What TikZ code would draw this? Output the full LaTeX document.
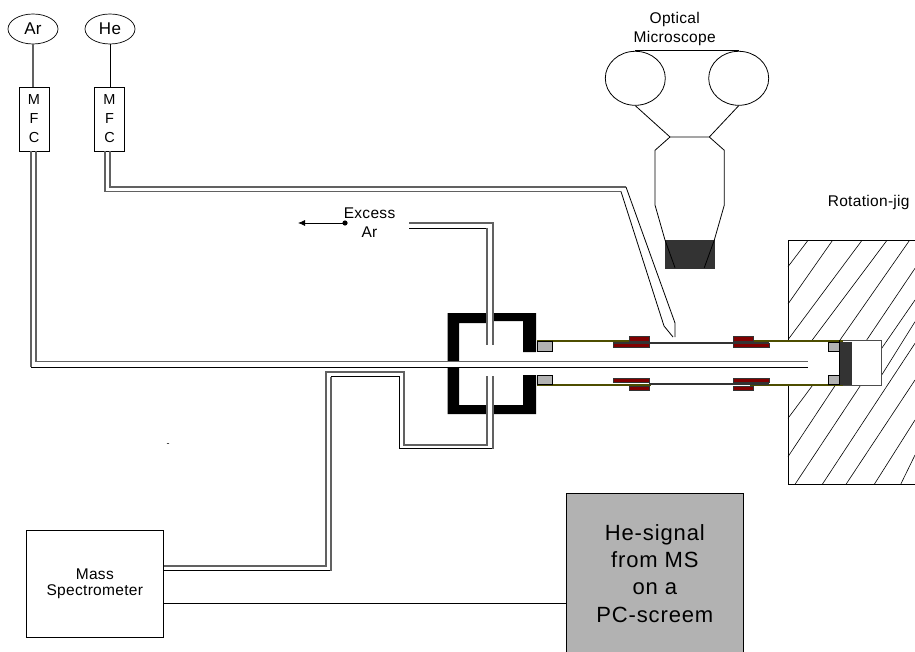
\documentclass[tikz,border=0pt]{standalone}
\usepackage{fontspec}
\setmainfont{Liberation Sans}
\newfontfamily\wide[LetterSpace=2]{Liberation Sans}
\newfontfamily\wider[LetterSpace=4]{Liberation Sans}
\usetikzlibrary{shapes.geometric,arrows.meta}
\definecolor{flangegray}{HTML}{B2B2B2}
\definecolor{darkplug}{HTML}{333333}
\definecolor{sealred}{HTML}{800000}
\definecolor{tubeolive}{HTML}{4D4D00}
\tikzset{
  wire/.style={line width=.8pt},
  pipe/.style={line width=1.1pt,black!62},
  bottle/.style={draw,ellipse,line width=.7pt,minimum width=50pt,minimum height=30pt,inner sep=0pt,font=\wide\fontsize{17}{20}\selectfont},
  mfcbox/.style={draw,line width=.7pt,minimum width=30pt,minimum height=64pt,inner sep=0pt,align=center,font=\fontsize{14.5}{19}\selectfont},
  label/.style={align=center,inner sep=0pt,font=\wide\fontsize{15.5}{19}\selectfont},
  seal/.style={fill=sealred,draw=black!80,line width=.6pt},
  spacer/.style={fill=flangegray,draw=black,line width=.8pt},
}
\begin{document}
\begin{tikzpicture}[x=1pt,y=-1pt]
\useasboundingbox (0,0) rectangle (915,652);
% gas bottles and flow controllers
\node[bottle] (ar) at (33,29) {Ar};
\node[bottle] (he) at (110,29) {He};
\node[mfcbox] (mfcar) at (34,119) {M\\F\\C};
\node[mfcbox] (mfche) at (109.5,119) {M\\F\\C};
\draw[pipe] (ar) -- (ar |- mfcar.north);
\draw[wire] (he) -- (he |- mfche.north);
% rotation jig
\draw[wire] (915,240.7) -- (788,240.7) -- (788,340);
\draw[wire] (788,385) -- (788,484.3) -- (915,484.3);
\foreach \xa/\ya/\xb/\yb in {807.7/240.7/788/266.7,832.3/240.7/788/304,861.7/240.7/788.3/339.3,886.7/240.7/812.3/340,909.3/240.7/840/340,915/268.3/866.7/340,915/300/881.7/348.3,915/321.7/881.7/375,812.3/385.7/788/418.3,835/385.7/788/456.7,860.3/385.7/795/484.3,915/343.3/822.3/484.3,915/380/846/484.3,915/420/874.3/484.3,915/455/900.7/484.3}
  \draw[line width=.6pt] (\xa,\ya) -- (\xb,\yb);
\draw[line width=.9pt,black!70] (788,340) -- (881,340) -- (881,385) -- (788,385);
% sample tube
\draw[tubeolive,line width=2pt] (537,340.5) -- (630,340.5);
\draw[tubeolive,line width=2pt] (750,340.5) -- (843,340.5);
\draw[tubeolive,line width=2pt] (537,385) -- (651,385);
\draw[tubeolive,line width=2pt] (750,385) -- (843,385);
\draw[darkplug,line width=2pt] (613,342.5) -- (769,342.5);
\draw[darkplug,line width=2pt] (649,383.5) -- (769,383.5);
\foreach \yt in {343,378} {
  \draw[seal] (613,\yt) rectangle (649,\yt+4.3);
  \draw[seal] (733,\yt) rectangle (769,\yt+4.3);
}
\draw[seal] (629,336) rectangle (649,341);
\draw[seal] (629,386) rectangle (649,390);
\draw[seal] (733,336) rectangle (753,341);
\draw[seal] (733,386) rectangle (753,390);
\draw[spacer] (537,341.7) rectangle (552,351);
\draw[spacer] (537,375) rectangle (552,384);
\draw[spacer] (828,342) rectangle (839,351);
\draw[spacer] (828,375) rectangle (839,384);
\fill[darkplug] (839,342) rectangle (852,385);
\draw[wire] (839,340) -- (839,385);
% flange
\fill (447.5,361) -- (447.5,313) -- (536,313) -- (536,352) -- (523,352) -- (523,321) -- (490,321) -- (490,323) -- (459,323) -- (459,361) -- cycle;
\fill (447.5,367.5) -- (447.5,414) -- (536,414) -- (536,375) -- (523,375) -- (523,405) -- (459,405) -- (459,367.5) -- cycle;
\fill[white] (488,310) rectangle (492.5,345);
\fill[white] (488,376) rectangle (492.5,416);
% excess line
\coordinate (excess) at (345,223);
\coordinate (exhaust) at (298,223);
\fill (excess) circle (2.6pt);
\draw[wire,-{Latex[length=7pt,width=6pt]}] (excess) -- (exhaust);
\node[label] (excesslabel) at (369.5,223) {Excess\\Ar};
\draw[pipe] (409,223) -- (493,223) -- (493,345);
\draw[wire] (409,228) -- (487,228);
\draw[pipe] (487,228) -- (487,345);
% argon and helium feed
\draw[pipe] (36,151) -- (36,361.7) -- (807.7,361.7);
\draw[pipe] (31,151) -- (31,367.3);
\draw[wire] (31,367.3) -- (807.7,367.3);
\draw[pipe] (110,151) -- (110,187) -- (626,187);
\draw[wire] (626,187) -- (675,323) -- (675,337);
\draw[pipe] (105,151) -- (105,191.5) -- (621,191.5);
\draw[wire] (621,191.5) -- (664,326) -- (673,337);
% mass spectrometer line
\node[draw,wire,minimum width=137.7pt,minimum height=107.7pt,inner sep=0pt,align=center,font=\wide\fontsize{15.5}{16.7}\selectfont] (ms) at (94.8,583.8) {Mass\\Spectrometer};
\draw[pipe] (ms.east |- 0,566) -- (326,566) -- (326,372) -- (404,372) -- (404,445) -- (487,445) -- (487,376);
\draw[wire] (ms.east |- 0,570.5) -- (331,570.5);
\draw[pipe] (331,570.5) -- (331,376.5);
\draw[wire] (331,376.5) -- (399,376.5) -- (399,448.5) -- (493,448.5);
\draw[pipe] (493,448.5) -- (493,376);
% PC screen
\node[draw,fill=flangegray,wire,minimum width=177pt,minimum height=159pt,inner sep=0pt,align=center,font=\wider\fontsize{22}{27.3}\selectfont] (pc) at (654.8,573.2) {He-signal\\from MS\\on a\\PC-screem};
\coordinate (signal) at (pc.west |- 0,603.3);
\draw[wire] (ms.east |- signal) -- (signal);
% optical microscope
\node[label] (optical) at (674.7,29) {Optical\\Microscope};
\node[draw,wire,ellipse,minimum width=60pt,minimum height=54pt,inner sep=0pt] (lefteye) at (635.3,78.3) {};
\node[draw,wire,ellipse,minimum width=60pt,minimum height=54pt,inner sep=0pt] (righteye) at (738.7,78.3) {};
\draw[wire] (lefteye.north) -- (righteye.north);
\fill[darkplug] (665,240) rectangle (715,268.7);
\draw[wire] (lefteye.south) -- (670,137) -- (709.3,137) -- (righteye.south);
\draw[wire] (670,137) -- (655,150.3) -- (655,205) -- (665,240) -- (675,267.7);
\draw[wire] (709.3,137) -- (724.3,150.3) -- (724.3,205) -- (714.3,240) -- (704.3,267.7);
\node[label] (jiglabel) at (868.7,202) {Rotation-jig};
\node[inner sep=0pt,font=\fontsize{9}{9}\selectfont] (dash) at (168,445) {-};
\end{tikzpicture}
\end{document}
